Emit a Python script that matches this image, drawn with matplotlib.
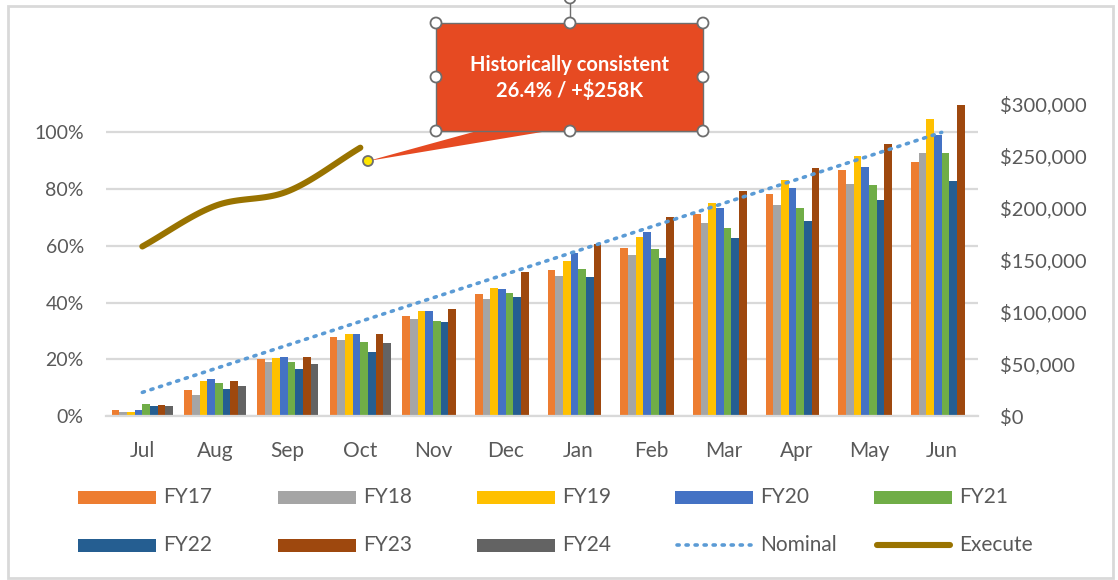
import matplotlib
matplotlib.use("Agg")
import matplotlib.pyplot as plt
import numpy as np
from matplotlib.patches import Rectangle, Polygon, Circle
from matplotlib.lines import Line2D
from matplotlib.ticker import FuncFormatter, MultipleLocator

plt.rcParams['font.family'] = ['Lato', 'DejaVu Sans']

# ---------------- data ----------------
months = ["Jul", "Aug", "Sep", "Oct", "Nov", "Dec", "Jan", "Feb", "Mar", "Apr", "May", "Jun"]

fy17 = [0.021, 0.092, 0.200, 0.277, 0.352, 0.430, 0.514, 0.594, 0.711, 0.784, 0.869, 0.897]
fy18 = [0.015, 0.074, 0.190, 0.268, 0.343, 0.414, 0.495, 0.568, 0.681, 0.743, 0.818, 0.927]
fy19 = [0.015, 0.124, 0.204, 0.289, 0.370, 0.452, 0.546, 0.631, 0.751, 0.833, 0.917, 1.048]
fy20 = [0.021, 0.129, 0.209, 0.289, 0.370, 0.446, 0.573, 0.649, 0.735, 0.805, 0.878, 0.992]
fy21 = [0.043, 0.115, 0.190, 0.262, 0.335, 0.432, 0.519, 0.589, 0.663, 0.735, 0.814, 0.927]
fy22 = [0.034, 0.096, 0.164, 0.226, 0.330, 0.420, 0.490, 0.557, 0.626, 0.686, 0.760, 0.830]
fy23 = [0.039, 0.124, 0.209, 0.289, 0.379, 0.507, 0.608, 0.701, 0.793, 0.873, 0.959, 1.098]
fy24 = [0.034, 0.106, 0.185, 0.258]

series_names = ["FY17", "FY18", "FY19", "FY20", "FY21", "FY22", "FY23", "FY24"]
series_values = [fy17, fy18, fy19, fy20, fy21, fy22, fy23, fy24]
series_colors = ["#ED7D31", "#A5A5A5", "#FFC000", "#4472C4", "#70AD47", "#255E91", "#9E480E", "#636363"]

nominal = [0.0833, 0.1667, 0.25, 0.3333, 0.4167, 0.5, 0.5833, 0.6667, 0.75, 0.8333, 0.9167, 1.0]
execute = [163000, 202000, 216000, 258000]   # dollars, right axis

callout_lines = ["Historically consistent", "26.4% / +$258K"]

# ---------------- figure ----------------
W, H = 1118, 580
fig = plt.figure(figsize=(W / 100, H / 100), dpi=100)

def fx(x):
    return x / W

def fy(y):
    return 1 - y / H

ax = fig.add_axes([fx(106), fy(416), fx(978) - fx(106), fy(104) - fy(416)])
ax2 = ax.twinx()

ax.set_xlim(-0.5, len(months) - 0.5)
ax.set_ylim(0, 1.1)
ax2.set_ylim(0, 300000)

# gridlines (left axis)
ax.yaxis.set_major_locator(MultipleLocator(0.2))
ax.grid(axis='y', color='#D9D9D9', linewidth=1.6)
ax.set_axisbelow(True)

# bars
n = len(series_names)
group = 0.84
bw = group / n
x = np.arange(len(months))
for i, (name, vals, col) in enumerate(zip(series_names, series_values, series_colors)):
    xs = x[:len(vals)] - group / 2 + bw * (i + 0.5)
    ax.bar(xs, vals, width=bw, color=col, linewidth=0, zorder=2)

# nominal dotted line
ax.plot(x, nominal, color='#5B9BD5', linewidth=2.6, linestyle=(0, (0.6, 1.9)),
        dash_capstyle='round', zorder=3)

# execute smoothed line (Catmull-Rom through data points) on right axis
ex_x = np.arange(len(execute), dtype=float)
ex_y = np.array(execute, dtype=float)
pts = np.column_stack([ex_x, ex_y])
P = np.vstack([pts[0] - (pts[1] - pts[0]), pts, pts[-1] + (pts[-1] - pts[-2])])
cx, cy = [], []
for k in range(1, len(P) - 2):
    p0, p1, p2, p3 = P[k - 1], P[k], P[k + 1], P[k + 2]
    t = np.linspace(0, 1, 30)[:, None]
    seg = 0.5 * ((2 * p1) + (-p0 + p2) * t + (2 * p0 - 5 * p1 + 4 * p2 - p3) * t ** 2
                 + (-p0 + 3 * p1 - 3 * p2 + p3) * t ** 3)
    cx.extend(seg[:, 0]); cy.extend(seg[:, 1])
ax2.plot(cx, cy, color='#997300', linewidth=4.4, solid_capstyle='round', zorder=4)

# axes styling
for a in (ax, ax2):
    for s in a.spines.values():
        s.set_visible(False)
    a.tick_params(length=0, colors='#595959', labelsize=14)

ax.spines['bottom'].set_visible(True)
ax.spines['bottom'].set_color('#D9D9D9')
ax.spines['bottom'].set_linewidth(1.6)

ax.set_xticks(x)
ax.set_xticklabels(months)
ax.tick_params(axis='x', pad=18, labelsize=15)
ax.tick_params(axis='y', pad=16)
ax.set_yticks([0, 0.2, 0.4, 0.6, 0.8, 1.0])
ax.yaxis.set_major_formatter(FuncFormatter(lambda v, p: f"{v * 100:.0f}%"))

ax2.set_yticks(np.arange(0, 300001, 50000))
ax2.yaxis.set_major_formatter(FuncFormatter(lambda v, p: f"${v:,.0f}"))
ax2.tick_params(axis='y', pad=16, labelsize=14.5)

# ---------------- legend (manual, Excel-like fixed columns) ----------------
leg_items = [(nm, 'patch', c) for nm, c in zip(series_names, series_colors)]
leg_items += [("Nominal", 'dot', '#5B9BD5'), ("Execute", 'line', '#997300')]
col_x = [78, 278, 477, 675, 874]
row_y = [497, 545]
for i, (nm, kind, col) in enumerate(leg_items):
    x0 = col_x[i % 5]
    y0 = row_y[i // 5]
    if kind == 'patch':
        fig.add_artist(Rectangle((fx(x0), fy(y0 + 6.5)), fx(78), 13 / H,
                                 facecolor=col, edgecolor='none', transform=fig.transFigure))
    elif kind == 'dot':
        fig.add_artist(Line2D([fx(x0 + 2), fx(x0 + 76)], [fy(y0), fy(y0)], color=col,
                              linewidth=2.6, linestyle=(0, (0.6, 1.9)), dash_capstyle='round',
                              transform=fig.transFigure))
    else:
        fig.add_artist(Line2D([fx(x0 + 3), fx(x0 + 76)], [fy(y0), fy(y0)], color=col,
                              linewidth=4.4, solid_capstyle='round', transform=fig.transFigure))
    fig.text(fx(x0 + 85), fy(y0), nm, color='#595959', fontsize=15, va='center', ha='left')

# ---------------- callout ----------------
box_l, box_r, box_t, box_b = 436, 703, 23, 131
fig.add_artist(Polygon([(fx(477), fy(131)), (fx(548), fy(131)), (fx(368), fy(161))],
                       closed=True, facecolor='#E64A22', edgecolor='none',
                       transform=fig.transFigure, zorder=10))
fig.add_artist(Rectangle((fx(box_l), fy(box_b)), fx(box_r - box_l), (box_b - box_t) / H,
                         facecolor='#E64A22', edgecolor='#6E6E6E', linewidth=1.0,
                         transform=fig.transFigure, zorder=11))
fig.text(fx(570), fy(65), callout_lines[0], color='white', fontsize=14.5, fontweight='bold',
         ha='center', va='center', zorder=12)
fig.text(fx(570), fy(91), callout_lines[1], color='white', fontsize=14.5, fontweight='bold',
         ha='center', va='center', zorder=12)

# selection handles
fig.add_artist(Line2D([fx(570), fx(570)], [fy(23), fy(0)], color='#6E6E6E', linewidth=1.0,
                      transform=fig.transFigure, zorder=12))
handles = [(box_l, box_t), (570, box_t), (box_r, box_t), (box_l, 77), (box_r, 77),
           (box_l, box_b), (570, box_b), (box_r, box_b)]
r = 5.5
for hx, hy in handles:
    fig.add_artist(Circle((hx, H - hy), r, facecolor='white', edgecolor='#6E6E6E',
                          linewidth=1.3, transform=None, zorder=13))
fig.add_artist(Circle((570, H + 2), r, facecolor='white', edgecolor='#6E6E6E',
                      linewidth=1.3, transform=None, zorder=13))
fig.add_artist(Circle((368, H - 161), 5, facecolor='#FFE600', edgecolor='#6E6E6E',
                      linewidth=1.3, transform=None, zorder=13))

# chart border
fig.add_artist(Rectangle((fx(8), fy(578)), fx(1113 - 8), (578 - 6) / H, facecolor='none',
                         edgecolor='#D9D9D9', linewidth=2.0, transform=fig.transFigure))

fig.savefig("out.png", dpi=100)
